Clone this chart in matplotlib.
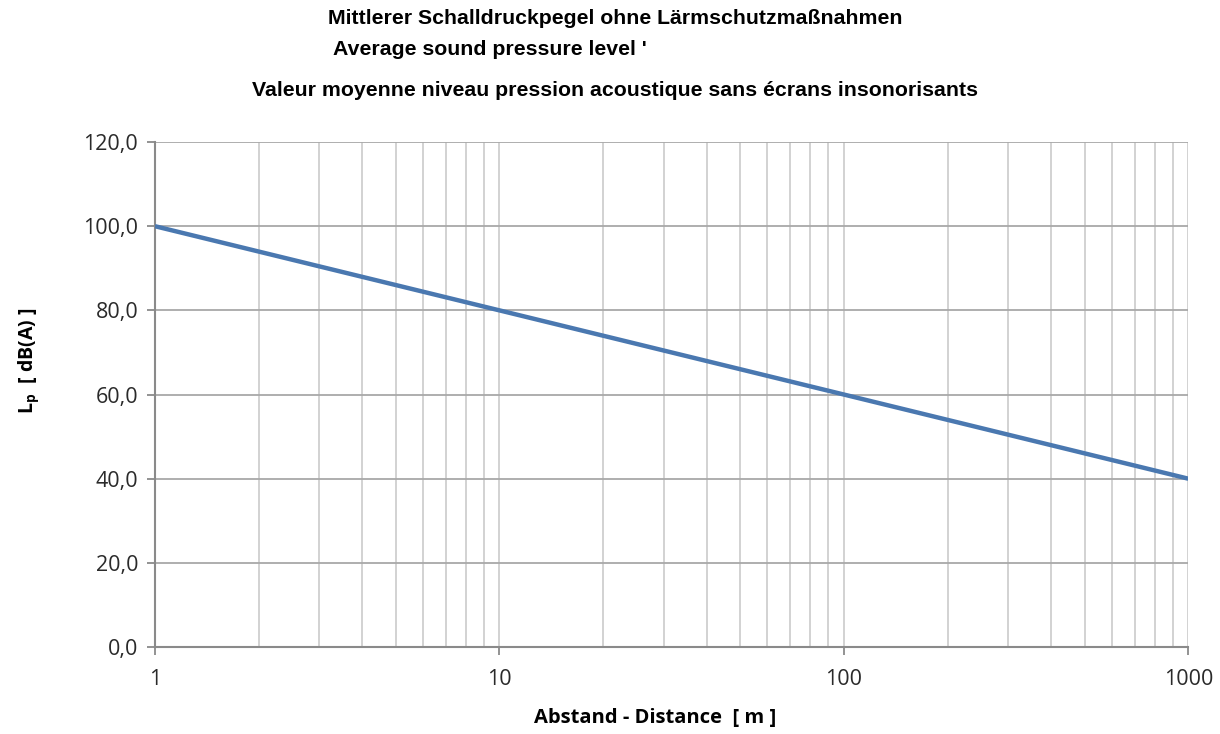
import matplotlib
matplotlib.use("Agg")
import matplotlib.pyplot as plt
from matplotlib.ticker import FixedLocator, FuncFormatter, LogLocator, NullFormatter

# Sound pressure level over distance (no noise barriers)
distance_m = [1, 10, 100, 1000]
level_dba = [100.0, 80.0, 60.0, 40.0]

y_ticks = [0, 20, 40, 60, 80, 100, 120]
x_ticks = [1, 10, 100, 1000]

title_lines = [
    "Mittlerer Schalldruckpegel ohne Lärmschutzmaßnahmen",
    "Average sound pressure level '",
    "Valeur moyenne niveau pression acoustique sans écrans insonorisants",
]

fig = plt.figure(figsize=(12.2, 7.34), dpi=100)
ax = fig.add_axes([0.127, 0.1185, 0.847, 0.688])

ax.plot(distance_m, level_dba, color="#4a78b0", lw=3.2, solid_capstyle="butt", zorder=3)

ax.set_xscale("log")
ax.set_xlim(1, 1000)
ax.set_ylim(0, 120)

ax.xaxis.set_major_locator(FixedLocator(x_ticks))
ax.xaxis.set_minor_locator(LogLocator(base=10, subs=range(2, 10)))
ax.xaxis.set_minor_formatter(NullFormatter())
ax.xaxis.set_major_formatter(FuncFormatter(lambda v, p: f"{int(round(v))}"))
ax.yaxis.set_major_locator(FixedLocator(y_ticks))
ax.yaxis.set_major_formatter(FuncFormatter(lambda v, p: f"{v:.1f}".replace(".", ",")))

ax.grid(True, axis="y", which="major", color="#a8a8a8", lw=1.3)
ax.grid(True, axis="x", which="both", color="#cfcfcf", lw=1.3)
ax.set_axisbelow(True)

for side in ("top", "right"):
    ax.spines[side].set_visible(False)
for side in ("left", "bottom"):
    ax.spines[side].set_color("#8a8a8a")
    ax.spines[side].set_linewidth(1.5)

ax.tick_params(axis="both", which="major", direction="out", length=6, width=1.3,
               color="#8a8a8a", labelsize=15.5, labelcolor="#2a2a2a")
ax.tick_params(axis="x", which="minor", length=0)
ax.tick_params(axis="x", pad=10)
ax.tick_params(axis="y", pad=6)

for lab in ax.get_xticklabels() + ax.get_yticklabels():
    lab.set_family("Open Sans")

ax.set_xlabel("Abstand - Distance  [ m ]", fontsize=14.5, fontweight="bold",
              family="Open Sans")
ax.set_ylabel(r"L$_\mathregular{p}$  [ dB(A) ]", fontsize=14, fontweight="bold",
              family="Open Sans")
ax.xaxis.set_label_coords(0.484, -0.121)
ax.yaxis.set_label_coords(-0.110, 0.566)

fig.text(0.504, 0.975, title_lines[0], ha="center", va="center",
         fontsize=15.3, fontweight="bold", family="Liberation Sans")
fig.text(0.273, 0.932, title_lines[1], ha="left", va="center",
         fontsize=15.3, fontweight="bold", family="Liberation Sans")
fig.text(0.504, 0.877, title_lines[2], ha="center", va="center",
         fontsize=15.3, fontweight="bold", family="Liberation Sans")

fig.savefig("out.png", dpi=100, facecolor="white")
